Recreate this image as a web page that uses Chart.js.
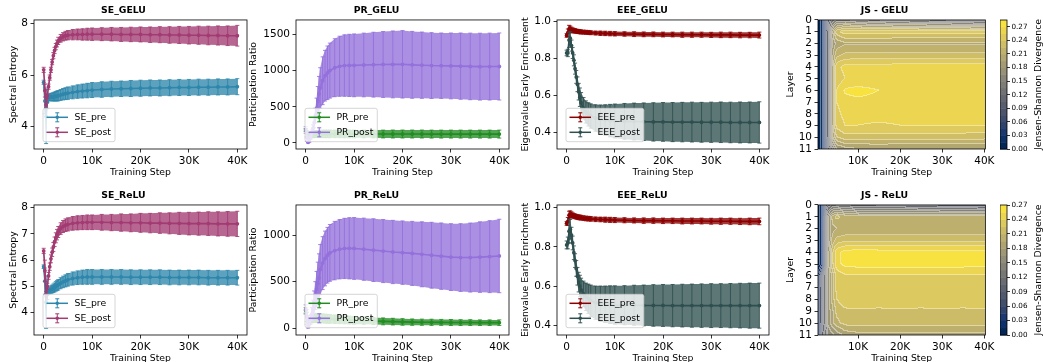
<!DOCTYPE html>
<html>
<head>
<meta charset="utf-8">
<title>Spectral metrics GELU / ReLU</title>
<script src="https://cdn.jsdelivr.net/npm/chart.js@4.4.0/dist/chart.umd.min.js"></script>
<style>
    html, body { margin: 0; padding: 0; background: #fff; overflow: hidden; }
    #fig { position: relative; width: 1043px; height: 362px; }
    #fig canvas { position: absolute; }
</style>
</head>
<body>
<div id="fig"></div>
<script>
// ---- data ----
const steps = [0, 250, 500, 750, 1000, 1250, 1500, 1750, 2000, 2250, 2500, 2750, 3000,
    3500, 4000, 4500, 5000, 6000, 7000, 8000, 9000, 10000,
    12000, 14000, 16000, 18000, 20000, 22000, 24000, 26000, 28000, 30000, 32000, 34000, 36000, 38000, 40000];
const xTicks = [0, 10000, 20000, 30000, 40000];

// Spectral entropy
const sePreGelu = [5.72, 5.0, 4.4, 4.95, 5.12, 5.14, 5.15, 5.15, 5.16, 5.17, 5.18, 5.19, 5.2,
    5.23, 5.26, 5.28, 5.3, 5.33, 5.36, 5.38, 5.4, 5.42,
    5.44, 5.46, 5.47, 5.48, 5.49, 5.5, 5.5, 5.51, 5.52, 5.52, 5.53, 5.53, 5.54, 5.54, 5.55];
const sePreGeluErr = [0.08, 0.5, 1.05, 0.25, 0.12, 0.13, 0.14, 0.15, 0.16, 0.17, 0.18, 0.19, 0.2,
    0.21, 0.22, 0.23, 0.24, 0.25, 0.26, 0.27, 0.28, 0.29,
    0.3, 0.3, 0.3, 0.31, 0.31, 0.31, 0.31, 0.31, 0.31, 0.31, 0.31, 0.31, 0.31, 0.31, 0.31];
const sePostGelu = [6.2, 5.4, 4.85, 5.2, 5.55, 5.9, 6.2, 6.5, 6.75, 6.95, 7.1, 7.22, 7.32,
    7.42, 7.48, 7.52, 7.54, 7.56, 7.57, 7.57, 7.58, 7.58,
    7.58, 7.58, 7.57, 7.57, 7.57, 7.56, 7.56, 7.55, 7.55, 7.54, 7.54, 7.53, 7.53, 7.52, 7.52];
const sePostGeluErr = [0.1, 0.25, 0.1, 0.1, 0.1, 0.1, 0.1, 0.1, 0.12, 0.12, 0.12, 0.13, 0.14,
    0.15, 0.16, 0.17, 0.18, 0.2, 0.21, 0.22, 0.23, 0.24,
    0.25, 0.26, 0.27, 0.28, 0.29, 0.3, 0.31, 0.32, 0.33, 0.34, 0.35, 0.36, 0.37, 0.38, 0.4];
const sePreRelu = [5.75, 5.2, 4.4, 4.7, 4.8, 4.85, 4.88, 4.9, 4.93, 4.96, 5.0, 5.03, 5.06,
    5.12, 5.17, 5.21, 5.25, 5.3, 5.33, 5.35, 5.36, 5.36,
    5.36, 5.36, 5.36, 5.35, 5.35, 5.35, 5.35, 5.34, 5.34, 5.34, 5.34, 5.33, 5.33, 5.33, 5.33];
const sePreReluErr = [0.07, 0.5, 1.0, 0.2, 0.12, 0.13, 0.14, 0.15, 0.16, 0.17, 0.18, 0.19, 0.2,
    0.21, 0.22, 0.23, 0.24, 0.25, 0.26, 0.27, 0.28, 0.28,
    0.28, 0.28, 0.28, 0.28, 0.28, 0.28, 0.28, 0.28, 0.28, 0.28, 0.28, 0.28, 0.28, 0.28, 0.28];
const sePostRelu = [6.35, 5.6, 4.7, 5.0, 5.4, 5.75, 6.05, 6.3, 6.5, 6.7, 6.85, 6.97, 7.07,
    7.2, 7.28, 7.33, 7.36, 7.4, 7.42, 7.43, 7.44, 7.44,
    7.44, 7.43, 7.43, 7.42, 7.42, 7.41, 7.41, 7.4, 7.4, 7.39, 7.39, 7.39, 7.38, 7.38, 7.38];
const sePostReluErr = [0.1, 0.4, 0.1, 0.12, 0.13, 0.14, 0.15, 0.16, 0.17, 0.18, 0.19, 0.2, 0.21,
    0.22, 0.23, 0.24, 0.25, 0.26, 0.27, 0.27, 0.28, 0.28,
    0.3, 0.31, 0.33, 0.34, 0.36, 0.37, 0.39, 0.4, 0.42, 0.43, 0.44, 0.45, 0.46, 0.47, 0.48];

// Participation ratio
const prPreGelu = [180, 130, 90, 100, 110, 115, 118, 120, 122, 123, 124, 125, 125,
    126, 126, 126, 126, 126, 126, 126, 125, 125,
    125, 125, 124, 124, 124, 124, 124, 123, 123, 123, 123, 123, 123, 123, 123];
const prPreGeluErr = [20, 40, 30, 35, 40, 42, 44, 45, 46, 47, 48, 49, 50,
    51, 52, 52, 53, 53, 53, 54, 54, 54,
    54, 54, 54, 55, 55, 55, 55, 55, 55, 55, 55, 55, 55, 55, 55];
const prPostGelu = [180, 80, 10, 30, 80, 140, 200, 280, 380, 480, 580, 680, 760,
    860, 930, 970, 1000, 1040, 1060, 1070, 1072, 1073,
    1078, 1082, 1085, 1086, 1087, 1080, 1075, 1070, 1068, 1065, 1062, 1058, 1055, 1056, 1057];
const prPostGeluErr = [45, 60, 10, 20, 30, 40, 50, 70, 100, 140, 200, 240, 280,
    330, 350, 370, 380, 400, 415, 425, 430, 434,
    440, 448, 455, 462, 466, 462, 458, 455, 452, 455, 458, 460, 462, 462, 463];
const prPreRelu = [190, 120, 60, 80, 95, 100, 103, 105, 106, 107, 107, 107, 106,
    104, 102, 100, 98, 95, 92, 89, 86, 84,
    80, 76, 72, 69, 66, 64, 63, 62, 61, 60, 59, 59, 58, 58, 58];
const prPreReluErr = [30, 50, 30, 35, 40, 42, 44, 45, 46, 47, 48, 48, 48,
    48, 48, 48, 47, 46, 45, 44, 43, 42,
    40, 38, 37, 36, 35, 34, 33, 33, 32, 32, 31, 31, 30, 30, 30];
const prPostRelu = [200, 120, 15, 40, 90, 150, 210, 280, 350, 420, 480, 540, 630,
    700, 750, 785, 810, 835, 850, 858, 860, 858,
    850, 840, 830, 820, 813, 805, 795, 785, 775, 765, 760, 760, 765, 770, 777];
const prPostReluErr = [50, 80, 15, 30, 50, 70, 90, 120, 150, 190, 230, 260, 270,
    285, 295, 300, 306, 315, 320, 325, 330, 333,
    335, 338, 340, 341, 342, 345, 350, 355, 358, 360, 365, 372, 380, 388, 396];

// Eigenvalue early enrichment
const eeePreGelu = [0.925, 0.94, 0.96, 0.958, 0.955, 0.953, 0.951, 0.95, 0.948, 0.947, 0.946, 0.945, 0.944,
    0.943, 0.942, 0.941, 0.94, 0.938, 0.937, 0.936, 0.935, 0.934,
    0.933, 0.932, 0.931, 0.931, 0.93, 0.93, 0.929, 0.929, 0.929, 0.928, 0.928, 0.928, 0.927, 0.927, 0.927];
const eeePreGeluErr = [0.01, 0.02, 0.02, 0.018, 0.015, 0.013, 0.012, 0.012, 0.011, 0.011, 0.011, 0.011, 0.011,
    0.011, 0.011, 0.011, 0.011, 0.011, 0.012, 0.012, 0.012, 0.012,
    0.012, 0.013, 0.013, 0.013, 0.013, 0.013, 0.014, 0.014, 0.014, 0.014, 0.015, 0.015, 0.015, 0.015, 0.016];
const eeePostGelu = [0.83, 0.83, 0.9, 0.91, 0.87, 0.83, 0.79, 0.745, 0.7, 0.66, 0.62, 0.59, 0.56,
    0.53, 0.51, 0.497, 0.488, 0.477, 0.47, 0.466, 0.463, 0.461,
    0.459, 0.458, 0.457, 0.456, 0.456, 0.455, 0.455, 0.455, 0.454, 0.454, 0.454, 0.453, 0.453, 0.453, 0.453];
const eeePostGeluErr = [0.015, 0.02, 0.04, 0.035, 0.03, 0.03, 0.03, 0.03, 0.035, 0.04, 0.045, 0.05, 0.055,
    0.058, 0.06, 0.063, 0.066, 0.072, 0.078, 0.083, 0.088, 0.092,
    0.097, 0.1, 0.102, 0.104, 0.105, 0.106, 0.107, 0.108, 0.108, 0.109, 0.11, 0.11, 0.111, 0.111, 0.112];
const eeePreRelu = [0.92, 0.93, 0.962, 0.966, 0.964, 0.961, 0.958, 0.956, 0.954, 0.952, 0.951, 0.95, 0.949,
    0.947, 0.945, 0.944, 0.943, 0.941, 0.94, 0.939, 0.938, 0.937,
    0.936, 0.935, 0.934, 0.934, 0.933, 0.933, 0.932, 0.932, 0.932, 0.931, 0.931, 0.931, 0.93, 0.93, 0.93];
const eeePreReluErr = [0.01, 0.02, 0.02, 0.018, 0.015, 0.013, 0.012, 0.012, 0.012, 0.012, 0.012, 0.012, 0.012,
    0.012, 0.012, 0.012, 0.012, 0.012, 0.012, 0.013, 0.013, 0.013,
    0.013, 0.013, 0.014, 0.014, 0.014, 0.014, 0.015, 0.015, 0.015, 0.015, 0.016, 0.016, 0.016, 0.017, 0.017];
const eeePostRelu = [0.81, 0.82, 0.88, 0.89, 0.86, 0.82, 0.77, 0.73, 0.69, 0.65, 0.62, 0.6, 0.58,
    0.56, 0.545, 0.535, 0.525, 0.515, 0.51, 0.507, 0.505, 0.503,
    0.502, 0.502, 0.501, 0.501, 0.501, 0.5, 0.5, 0.5, 0.5, 0.5, 0.5, 0.5, 0.5, 0.5, 0.5];
const eeePostReluErr = [0.02, 0.03, 0.06, 0.05, 0.04, 0.035, 0.035, 0.035, 0.04, 0.045, 0.05, 0.055, 0.06,
    0.065, 0.07, 0.075, 0.08, 0.085, 0.09, 0.093, 0.096, 0.098,
    0.1, 0.102, 0.104, 0.106, 0.107, 0.108, 0.109, 0.11, 0.111, 0.112, 0.112, 0.113, 0.114, 0.115, 0.115];

// Jensen-Shannon divergence per layer (rows = layers 0..11, columns = heatSteps)
const heatSteps = [500, 1000, 1500, 2000, 2500, 3000, 4000, 5000, 7000, 10000, 15000, 20000, 25000, 30000, 35000, 40250];
const layers = [0, 1, 2, 3, 4, 5, 6, 7, 8, 9, 10, 11];
const jsGelu = [
    [0.01, 0.012, 0.02, 0.045, 0.08, 0.11, 0.14, 0.15, 0.15, 0.14, 0.13, 0.125, 0.12, 0.115, 0.11, 0.105],
    [0.01, 0.012, 0.02, 0.05, 0.09, 0.12, 0.19, 0.235, 0.25, 0.25, 0.25, 0.249, 0.249, 0.248, 0.248, 0.248],
    [0.01, 0.012, 0.02, 0.05, 0.09, 0.12, 0.18, 0.2, 0.208, 0.208, 0.208, 0.207, 0.207, 0.207, 0.207, 0.207],
    [0.01, 0.012, 0.02, 0.05, 0.09, 0.12, 0.19, 0.22, 0.228, 0.228, 0.229, 0.229, 0.228, 0.228, 0.228, 0.228],
    [0.01, 0.012, 0.02, 0.05, 0.09, 0.12, 0.2, 0.25, 0.26, 0.261, 0.261, 0.262, 0.262, 0.262, 0.262, 0.262],
    [0.01, 0.012, 0.02, 0.05, 0.09, 0.12, 0.2, 0.245, 0.255, 0.255, 0.257, 0.256, 0.256, 0.256, 0.256, 0.256],
    [0.01, 0.012, 0.02, 0.05, 0.09, 0.12, 0.2, 0.255, 0.272, 0.276, 0.27, 0.266, 0.266, 0.265, 0.265, 0.265],
    [0.01, 0.012, 0.02, 0.05, 0.09, 0.12, 0.2, 0.255, 0.265, 0.266, 0.265, 0.265, 0.264, 0.264, 0.264, 0.263],
    [0.01, 0.012, 0.02, 0.05, 0.09, 0.12, 0.2, 0.25, 0.26, 0.261, 0.261, 0.261, 0.261, 0.261, 0.26, 0.26],
    [0.01, 0.012, 0.02, 0.05, 0.09, 0.12, 0.2, 0.245, 0.255, 0.255, 0.253, 0.255, 0.255, 0.255, 0.255, 0.255],
    [0.01, 0.012, 0.02, 0.05, 0.09, 0.12, 0.19, 0.225, 0.235, 0.233, 0.235, 0.233, 0.234, 0.233, 0.233, 0.232],
    [0.01, 0.012, 0.02, 0.045, 0.08, 0.11, 0.15, 0.18, 0.19, 0.195, 0.195, 0.195, 0.195, 0.195, 0.195, 0.195]
];
const jsRelu = [
    [0.01, 0.015, 0.03, 0.06, 0.09, 0.11, 0.12, 0.115, 0.11, 0.105, 0.10, 0.10, 0.095, 0.09, 0.09, 0.085],
    [0.01, 0.015, 0.03, 0.08, 0.13, 0.16, 0.2, 0.215, 0.205, 0.198, 0.198, 0.198, 0.198, 0.198, 0.198, 0.198],
    [0.01, 0.015, 0.03, 0.08, 0.13, 0.16, 0.19, 0.195, 0.196, 0.196, 0.196, 0.196, 0.196, 0.196, 0.196, 0.196],
    [0.01, 0.015, 0.03, 0.08, 0.13, 0.16, 0.2, 0.215, 0.22, 0.22, 0.22, 0.22, 0.22, 0.22, 0.22, 0.22],
    [0.01, 0.015, 0.03, 0.08, 0.13, 0.17, 0.22, 0.25, 0.26, 0.262, 0.261, 0.261, 0.261, 0.261, 0.261, 0.26],
    [0.01, 0.015, 0.03, 0.08, 0.13, 0.17, 0.22, 0.25, 0.26, 0.262, 0.263, 0.262, 0.262, 0.262, 0.262, 0.261],
    [0.03, 0.06, 0.09, 0.12, 0.14, 0.17, 0.2, 0.23, 0.238, 0.239, 0.238, 0.238, 0.238, 0.238, 0.238, 0.238],
    [0.035, 0.07, 0.1, 0.12, 0.14, 0.17, 0.2, 0.23, 0.238, 0.238, 0.238, 0.238, 0.237, 0.237, 0.237, 0.237],
    [0.035, 0.07, 0.1, 0.12, 0.14, 0.17, 0.2, 0.225, 0.234, 0.234, 0.234, 0.234, 0.234, 0.234, 0.234, 0.234],
    [0.035, 0.07, 0.1, 0.12, 0.14, 0.17, 0.19, 0.215, 0.222, 0.223, 0.222, 0.223, 0.222, 0.223, 0.222, 0.223],
    [0.035, 0.07, 0.1, 0.12, 0.14, 0.17, 0.19, 0.205, 0.216, 0.216, 0.216, 0.216, 0.216, 0.216, 0.216, 0.216],
    [0.03, 0.06, 0.09, 0.11, 0.13, 0.15, 0.16, 0.17, 0.185, 0.19, 0.19, 0.19, 0.19, 0.19, 0.19, 0.19]
];
const levelStep = 0.015;
const jsGeluMax = 0.285;
const jsReluMax = 0.27;
const cbTicks = [0, 0.03, 0.06, 0.09, 0.12, 0.15, 0.18, 0.21, 0.24, 0.27];

// ---- helpers ----
Chart.defaults.font.family = '"DejaVu Sans", sans-serif';
Chart.defaults.color = '#000';
Chart.defaults.animation = false;

const fig = document.getElementById('fig');
const LABEL = 9.3;
const TICK = 10.5;

function makeCanvas(left, top, w, h) {
    const c = document.createElement('canvas');
    c.width = w;
    c.height = h;
    c.style.left = left + 'px';
    c.style.top = top + 'px';
    c.style.width = w + 'px';
    c.style.height = h + 'px';
    fig.appendChild(c);
    return c;
}

const kFmt = v => v === 0 ? '0' : (v / 1000) + 'K';
const setTicks = list => s => { s.ticks = list.map(v => ({ value: v })); };

function alpha(hex, a) {
    const r = parseInt(hex.slice(1, 3), 16), g = parseInt(hex.slice(3, 5), 16), b = parseInt(hex.slice(5, 7), 16);
    return `rgba(${r},${g},${b},${a})`;
}

// cividis anchors
const CIVIDIS = ['#00224E', '#123570', '#3B496C', '#575D6D', '#707173', '#8A8779', '#A69D75', '#C4B56C', '#E4CF5B', '#FEE838']
    .map(h => [parseInt(h.slice(1, 3), 16), parseInt(h.slice(3, 5), 16), parseInt(h.slice(5, 7), 16)]);
function cividis(t) {
    t = Math.min(1, Math.max(0, t)) * 9;
    const i = Math.min(8, Math.floor(t)), f = t - i;
    const a = CIVIDIS[i], b = CIVIDIS[i + 1];
    return [0, 1, 2].map(k => Math.round(a[k] + (b[k] - a[k]) * f));
}

function tickAxis(extra) {
    return Object.assign({
        grid: { display: true, drawOnChartArea: false, drawTicks: true, tickLength: 3.5, color: '#000', lineWidth: 0.8 },
        border: { display: false },
        ticks: { font: { size: TICK }, color: '#000', padding: 2.5, autoSkip: false, maxRotation: 0, minRotation: 0 }
    }, extra);
}

// frame (all four spines)
const frame = {
    id: 'frame',
    afterDraw(chart) {
        const a = chart.chartArea, ctx = chart.ctx;
        ctx.save();
        ctx.strokeStyle = '#000';
        ctx.lineWidth = 0.8;
        ctx.strokeRect(a.left, a.top, a.right - a.left, a.bottom - a.top);
        ctx.restore();
    }
};

// error bars: filled band + vertical bars with caps, drawn under each dataset's line
const errorBars = {
    id: 'errorBars',
    beforeDatasetDraw(chart, args) {
        const ds = chart.data.datasets[args.index];
        if (!ds.err) return;
        const xs = chart.scales.x, ys = chart.scales.y, ctx = chart.ctx, a = chart.chartArea;
        const pts = ds.data.map((p, i) => ({
            x: xs.getPixelForValue(p.x),
            hi: ys.getPixelForValue(p.y + ds.err[i]),
            lo: ys.getPixelForValue(p.y - ds.err[i])
        }));
        ctx.save();
        ctx.beginPath();
        ctx.rect(a.left, a.top, a.right - a.left, a.bottom - a.top);
        ctx.clip();
        ctx.fillStyle = alpha(ds.borderColor, 0.78);
        ctx.beginPath();
        pts.forEach((p, i) => i ? ctx.lineTo(p.x, p.hi) : ctx.moveTo(p.x, p.hi));
        for (let i = pts.length - 1; i >= 0; i--) ctx.lineTo(pts[i].x, pts[i].lo);
        ctx.closePath();
        ctx.fill();
        ctx.strokeStyle = alpha(ds.borderColor, 0.85);
        ctx.lineWidth = 1;
        ctx.beginPath();
        pts.forEach(p => {
            ctx.moveTo(p.x, p.hi); ctx.lineTo(p.x, p.lo);
            ctx.moveTo(p.x - 2, p.hi); ctx.lineTo(p.x + 2, p.hi);
            ctx.moveTo(p.x - 2, p.lo); ctx.lineTo(p.x + 2, p.lo);
        });
        ctx.stroke();
        ctx.restore();
    }
};

// matplotlib-like legend box in the lower left of the axes
function boxLegend(items) {
    return {
        id: 'boxLegend',
        afterDatasetsDraw(chart) {
            const ctx = chart.ctx, a = chart.chartArea;
            ctx.save();
            ctx.font = LABEL + 'px "DejaVu Sans"';
            const tw = Math.max(...items.map(it => ctx.measureText(it.label).width));
            const bw = 31.5 + tw + 4, bh = 33.4;
            const bx = a.left + 9, by = a.bottom - 7.3 - bh;
            ctx.beginPath();
            ctx.roundRect(bx, by, bw, bh, 2);
            ctx.fillStyle = 'rgba(255,255,255,0.8)';
            ctx.fill();
            ctx.strokeStyle = '#cccccc';
            ctx.lineWidth = 0.8;
            ctx.stroke();
            items.forEach((it, k) => {
                const cy = by + 9 + k * 15, x0 = bx + 3.5, x1 = bx + 25, xm = (x0 + x1) / 2;
                ctx.strokeStyle = it.color;
                ctx.fillStyle = it.color;
                ctx.lineWidth = 1.5;
                ctx.beginPath(); ctx.moveTo(x0, cy); ctx.lineTo(x1, cy); ctx.stroke();
                ctx.lineWidth = 1;
                ctx.beginPath();
                ctx.moveTo(xm, cy - 4.5); ctx.lineTo(xm, cy + 4.5);
                ctx.moveTo(xm - 2, cy - 4.5); ctx.lineTo(xm + 2, cy - 4.5);
                ctx.moveTo(xm - 2, cy + 4.5); ctx.lineTo(xm + 2, cy + 4.5);
                ctx.stroke();
                ctx.beginPath(); ctx.arc(xm, cy, 1.8, 0, Math.PI * 2); ctx.fill();
                ctx.fillStyle = '#000';
                ctx.textBaseline = 'middle';
                ctx.fillText(it.label, bx + 31.5, cy + 0.5);
            });
            ctx.restore();
        }
    };
}

function titleOpts(text) {
    return { display: true, text: text, color: '#000', font: { size: LABEL, weight: 'bold' }, padding: { top: 5.4, bottom: 3.4 } };
}

// ---- line panels ----
function linePanel(p) {
    const m = p.m;
    const cv = makeCanvas(p.l - m.l, p.t - 20, p.w + m.l + m.r, p.h + 20 + 30);
    const series = [p.pre, p.post];
    new Chart(cv, {
        type: 'line',
        data: {
            datasets: series.map((s, k) => ({
                label: s.label,
                data: steps.map((x, i) => ({ x: x, y: s.data[i] })),
                err: s.err,
                borderColor: s.color,
                backgroundColor: s.color,
                pointBackgroundColor: s.color,
                borderWidth: 1.6,
                pointRadius: 1.9,
                pointBorderWidth: 0,
                pointHoverRadius: 0,
                tension: 0,
                fill: false,
                order: 2 - k
            }))
        },
        options: {
            responsive: false,
            devicePixelRatio: 1,
            events: [],
            layout: { padding: { left: 0, right: m.r, top: 0, bottom: 0 } },
            plugins: { legend: { display: false }, tooltip: { enabled: false }, title: titleOpts(p.title) },
            scales: {
                x: tickAxis({
                    type: 'linear', min: -2000, max: 42000,
                    afterBuildTicks: setTicks(xTicks),
                    afterFit: s => { s.height = 30; },
                    title: { display: true, text: 'Training Step', font: { size: LABEL }, padding: { top: 0, bottom: 0.4 } },
                    ticks: { font: { size: TICK }, color: '#000', padding: 2.5, autoSkip: false, maxRotation: 0, minRotation: 0, callback: kFmt }
                }),
                y: tickAxis({
                    type: 'linear', min: p.yMin, max: p.yMax,
                    afterBuildTicks: setTicks(p.yTicks),
                    afterFit: s => { s.width = m.l; },
                    title: { display: true, text: p.yTitle, font: { size: LABEL }, padding: { top: p.yTitlePad, bottom: 0 } },
                    ticks: { font: { size: TICK }, color: '#000', padding: 2.5, autoSkip: false, callback: p.yFmt || (v => v) }
                })
            }
        },
        plugins: [errorBars, boxLegend([p.pre, p.post]), frame]
    });
}

const C_SE_PRE = '#2E86AB', C_SE_POST = '#A23B72';
const C_PR_PRE = '#228B22', C_PR_POST = '#9370DB';
const C_EEE_PRE = '#8B0000', C_EEE_POST = '#2F4F4F';
const ROW1 = 20, ROW1H = 129, ROW2 = 205, ROW2H = 130;
const fmt1 = v => v.toFixed(1);

const lineDefs = [
    { l: 34, t: ROW1, w: 213, h: ROW1H, m: { l: 34, r: 10 }, title: 'SE_GELU', yTitle: 'Spectral Entropy', yTitlePad: 7.8,
      yMin: 3.14, yMax: 8.13, yTicks: [4, 6, 8],
      pre: { label: 'SE_pre', color: C_SE_PRE, data: sePreGelu, err: sePreGeluErr },
      post: { label: 'SE_post', color: C_SE_POST, data: sePostGelu, err: sePostGeluErr } },
    { l: 296, t: ROW1, w: 213, h: ROW1H, m: { l: 52, r: 8 }, title: 'PR_GELU', yTitle: 'Participation Ratio', yTitlePad: 4.3,
      yMin: -83, yMax: 1700, yTicks: [0, 500, 1000, 1500],
      pre: { label: 'PR_pre', color: C_PR_PRE, data: prPreGelu, err: prPreGeluErr },
      post: { label: 'PR_post', color: C_PR_POST, data: prPostGelu, err: prPostGeluErr } },
    { l: 557, t: ROW1, w: 212, h: ROW1H, m: { l: 41, r: 8 }, title: 'EEE_GELU', yTitle: 'Eigenvalue Early Enrichment', yTitlePad: 3.6,
      yMin: 0.309, yMax: 1.009, yTicks: [0.4, 0.6, 0.8, 1.0], yFmt: fmt1,
      pre: { label: 'EEE_pre', color: C_EEE_PRE, data: eeePreGelu, err: eeePreGeluErr },
      post: { label: 'EEE_post', color: C_EEE_POST, data: eeePostGelu, err: eeePostGeluErr } },
    { l: 34, t: ROW2, w: 213, h: ROW2H, m: { l: 34, r: 10 }, title: 'SE_ReLU', yTitle: 'Spectral Entropy', yTitlePad: 7.8,
      yMin: 3.15, yMax: 8.1, yTicks: [4, 5, 6, 7, 8],
      pre: { label: 'SE_pre', color: C_SE_PRE, data: sePreRelu, err: sePreReluErr },
      post: { label: 'SE_post', color: C_SE_POST, data: sePostRelu, err: sePostReluErr } },
    { l: 296, t: ROW2, w: 213, h: ROW2H, m: { l: 52, r: 8 }, title: 'PR_ReLU', yTitle: 'Participation Ratio', yTitlePad: 4.3,
      yMin: -75, yMax: 1327, yTicks: [0, 500, 1000],
      pre: { label: 'PR_pre', color: C_PR_PRE, data: prPreRelu, err: prPreReluErr },
      post: { label: 'PR_post', color: C_PR_POST, data: prPostRelu, err: prPostReluErr } },
    { l: 557, t: ROW2, w: 212, h: ROW2H, m: { l: 41, r: 8 }, title: 'EEE_ReLU', yTitle: 'Eigenvalue Early Enrichment', yTitlePad: 3.6,
      yMin: 0.35, yMax: 1.014, yTicks: [0.4, 0.6, 0.8, 1.0], yFmt: fmt1,
      pre: { label: 'EEE_pre', color: C_EEE_PRE, data: eeePreRelu, err: eeePreReluErr },
      post: { label: 'EEE_post', color: C_EEE_POST, data: eeePostRelu, err: eeePostReluErr } }
];
lineDefs.forEach(linePanel);

// ---- heatmaps ----
function heatLayer(grid, vmax) {
    return {
        id: 'heat',
        beforeDatasetsDraw(chart) {
            const a = chart.chartArea, xs = chart.scales.x, ys = chart.scales.y, ctx = chart.ctx;
            const x0 = Math.round(a.left), y0 = Math.round(a.top);
            const w = Math.round(a.right) - x0, h = Math.round(a.bottom) - y0;
            const nb = Math.round(vmax / levelStep), nc = heatSteps.length;
            const colIdx = new Int32Array(w), colFrac = new Float32Array(w);
            for (let px = 0; px < w; px++) {
                const xv = xs.getValueForPixel(x0 + px + 0.5);
                let c = 0;
                while (c < nc - 2 && xv > heatSteps[c + 1]) c++;
                colIdx[px] = c;
                colFrac[px] = Math.min(1, Math.max(0, (xv - heatSteps[c]) / (heatSteps[c + 1] - heatSteps[c])));
            }
            const lev = new Int16Array(w * h);
            for (let py = 0; py < h; py++) {
                const yv = Math.min(11, Math.max(0, ys.getValueForPixel(y0 + py + 0.5)));
                const r = Math.min(layers.length - 2, Math.floor(yv)), fr = yv - r;
                const top = grid[r], bot = grid[r + 1];
                for (let px = 0; px < w; px++) {
                    const c = colIdx[px], f = colFrac[px];
                    const vt = top[c] + (top[c + 1] - top[c]) * f;
                    const vb = bot[c] + (bot[c + 1] - bot[c]) * f;
                    const v = vt + (vb - vt) * fr;
                    lev[py * w + px] = Math.min(nb - 1, Math.max(0, Math.floor(v / levelStep)));
                }
            }
            const pal = [];
            for (let k = 0; k < nb; k++) pal.push(cividis((k + 0.5) / nb));
            const img = ctx.createImageData(w, h);
            for (let i = 0; i < w * h; i++) {
                const k = lev[i], px = i % w;
                let [r, g, b] = pal[k];
                // white contour lines where the level changes
                if ((px + 1 < w && lev[i + 1] !== k) || (i + w < w * h && lev[i + w] !== k)) {
                    r = r * 0.6 + 102; g = g * 0.6 + 102; b = b * 0.6 + 102;
                }
                img.data[i * 4] = r;
                img.data[i * 4 + 1] = g;
                img.data[i * 4 + 2] = b;
                img.data[i * 4 + 3] = 255;
            }
            ctx.putImageData(img, x0, y0);
        }
    };
}

function heatPanel(top, h, title, grid, vmax) {
    const cv = makeCanvas(780, top - 20, 38 + 171 + 8, h + 20 + 30);
    new Chart(cv, {
        type: 'scatter',
        data: { datasets: [] },
        options: {
            responsive: false,
            devicePixelRatio: 1,
            events: [],
            layout: { padding: { left: 0, right: 8, top: 0, bottom: 0 } },
            plugins: { legend: { display: false }, tooltip: { enabled: false }, title: titleOpts(title) },
            scales: {
                x: tickAxis({
                    type: 'linear', min: 500, max: 40250,
                    afterBuildTicks: setTicks(xTicks.slice(1)),
                    afterFit: s => { s.height = 30; },
                    title: { display: true, text: 'Training Step', font: { size: LABEL }, padding: { top: 0, bottom: 0.4 } },
                    ticks: { font: { size: TICK }, color: '#000', padding: 2.5, autoSkip: false, maxRotation: 0, minRotation: 0, callback: kFmt }
                }),
                y: tickAxis({
                    type: 'linear', min: 0, max: 11, reverse: true,
                    afterBuildTicks: setTicks(layers),
                    afterFit: s => { s.width = 38; },
                    title: { display: true, text: 'Layer', font: { size: LABEL }, padding: { top: 5.3, bottom: 0 } }
                })
            }
        },
        plugins: [heatLayer(grid, vmax), frame]
    });
}

function colorbar(top, h, vmax) {
    const cv = makeCanvas(1000, top - 20, 43, h + 20 + 10);
    const bands = {
        id: 'bands',
        beforeDatasetsDraw(chart) {
            const a = chart.chartArea, ys = chart.scales.y, ctx = chart.ctx;
            const nb = Math.round(vmax / levelStep);
            for (let k = 0; k < nb; k++) {
                const c = cividis((k + 0.5) / nb);
                const y1 = ys.getPixelForValue(k * levelStep), y2 = ys.getPixelForValue((k + 1) * levelStep);
                ctx.fillStyle = `rgb(${c[0]},${c[1]},${c[2]})`;
                ctx.fillRect(a.left, y2, a.right - a.left, y1 - y2 + 0.5);
            }
        },
        afterDraw(chart) {
            const a = chart.chartArea, ctx = chart.ctx;
            ctx.save();
            ctx.translate(38.3, (a.top + a.bottom) / 2);
            ctx.rotate(-Math.PI / 2);
            ctx.font = LABEL + 'px "DejaVu Sans"';
            ctx.fillStyle = '#000';
            ctx.textAlign = 'center';
            ctx.textBaseline = 'middle';
            ctx.fillText('Jensen-Shannon Divergence', 0, 0);
            ctx.restore();
        }
    };
    new Chart(cv, {
        type: 'scatter',
        data: { datasets: [] },
        options: {
            responsive: false,
            devicePixelRatio: 1,
            events: [],
            layout: { padding: { left: 0, right: 0, top: 20, bottom: 10 } },
            plugins: { legend: { display: false }, tooltip: { enabled: false } },
            scales: {
                x: { display: false, min: 0, max: 1 },
                y: tickAxis({
                    type: 'linear', position: 'right', min: 0, max: vmax,
                    afterBuildTicks: setTicks(cbTicks),
                    afterFit: s => { s.width = 36; },
                    grid: { display: true, drawOnChartArea: false, drawTicks: true, tickLength: 3, color: '#000', lineWidth: 0.8 },
                    ticks: { font: { size: 7.2 }, color: '#000', padding: 1.5, autoSkip: false, callback: v => v.toFixed(2) }
                })
            }
        },
        plugins: [bands, frame]
    });
}

heatPanel(ROW1, ROW1H, 'JS - GELU', jsGelu, jsGeluMax);
colorbar(ROW1, ROW1H, jsGeluMax);
heatPanel(ROW2, ROW2H, 'JS - ReLU', jsRelu, jsReluMax);
colorbar(ROW2, ROW2H, jsReluMax);
</script>
</body>
</html>
